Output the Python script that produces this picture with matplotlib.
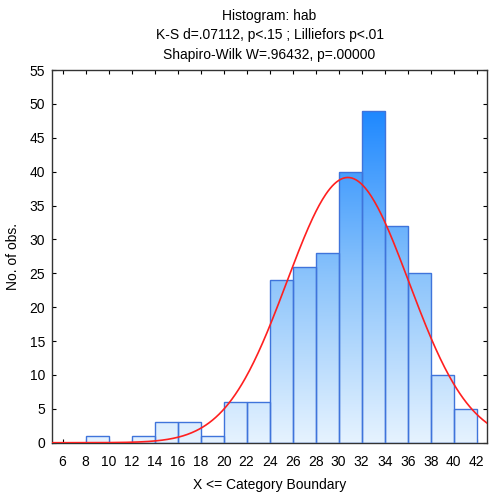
import numpy as np
import matplotlib.pyplot as plt
from matplotlib.colors import LinearSegmentedColormap
from matplotlib.patches import Rectangle

# bin edges (upper boundary of each category) and counts
bin_edges = [6, 8, 10, 12, 14, 16, 18, 20, 22, 24, 26, 28, 30, 32, 34, 36, 38, 40, 42]
counts = [0, 1, 0, 1, 3, 3, 1, 6, 6, 24, 26, 28, 40, 49, 32, 25, 10, 5]

# fitted normal
mu = 30.8
sigma = 5.3

xticks = list(range(6, 43, 2))
yticks = list(range(0, 56, 5))

plt.rcParams['font.family'] = 'Liberation Sans'
plt.rcParams['font.size'] = 10

fig, ax = plt.subplots(figsize=(4.92, 4.93), dpi=100)
fig.subplots_adjust(left=0.106, right=0.99, top=0.858, bottom=0.102)

cmap = LinearSegmentedColormap.from_list('bars', ['#e6f3ff', '#8cc4fb', '#1e88ff'])
top = max(counts)
grad = np.linspace(0, 1, 256).reshape(-1, 1)

for i, c in enumerate(counts):
    if c == 0:
        continue
    x0, x1 = bin_edges[i], bin_edges[i + 1]
    rect = Rectangle((x0, 0), x1 - x0, c, facecolor='none',
                     edgecolor='#3f74db', linewidth=1.0, zorder=3)
    ax.add_patch(rect)
    im = ax.imshow(grad, cmap=cmap, origin='lower', aspect='auto',
                   extent=(x0, x1, 0, top), zorder=2)
    im.set_clip_path(rect)

n = sum(counts)
w = bin_edges[1] - bin_edges[0]
xs = np.linspace(5.1, 42.9, 400)
ys = n * w / (sigma * np.sqrt(2 * np.pi)) * np.exp(-0.5 * ((xs - mu) / sigma) ** 2)
ax.plot(xs, ys, color='#ff2020', linewidth=1.2, zorder=4)

ax.set_xlim(5.1, 42.9)
ax.set_ylim(0, 55)
ax.set_xticks(xticks)
ax.set_yticks(yticks)
ax.tick_params(direction='in', top=True, right=True, length=3, width=0.8)
ax.tick_params(axis='x', pad=9)
ax.tick_params(axis='y', pad=5)
for s in ax.spines.values():
    s.set_linewidth(1.0)
    s.set_color('#333333')

ax.set_xlabel('X <= Category Boundary', labelpad=6)
ax.set_ylabel('No. of obs.', labelpad=7)
ax.set_title('Histogram: hab\nK-S d=.07112, p<.15 ; Lilliefors p<.01\n'
             'Shapiro-Wilk W=.96432, p=.00000', fontsize=10, linespacing=1.5, pad=8)

fig.savefig('out.png', dpi=100)
